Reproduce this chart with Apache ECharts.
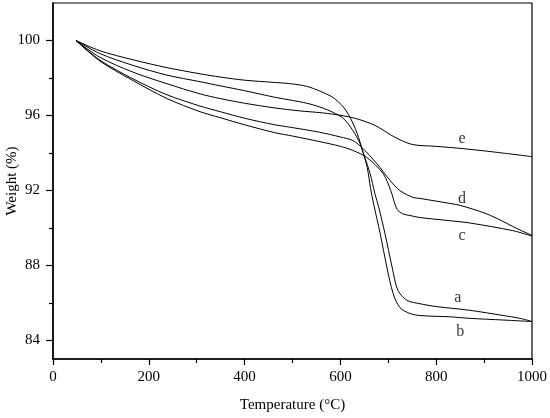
<!DOCTYPE html>
<html>
<head>
<meta charset="utf-8">
<script src="https://cdn.jsdelivr.net/npm/echarts@6/dist/echarts.min.js"></script>
<style>html,body{margin:0;padding:0;background:#fff;}#c{width:550px;height:418px;}</style>
</head>
<body>
<div id="c"></div>
<script>
// Temperature (°C) / Weight (%) readings for each TGA curve
const tempA = [48, 98, 167, 238, 307, 349, 400, 463, 500, 530, 557, 585, 606, 626, 641, 651, 662, 672, 680, 693, 708, 720, 739, 766, 800, 870, 940, 975, 1000];
const weightA = [100, 99.3, 98.67, 98.15, 97.8, 97.58, 97.32, 96.97, 96.8, 96.65, 96.45, 96.16, 95.84, 95.2, 94.5, 93.75, 92.9, 91.83, 91.1, 89.7, 87.9, 86.67, 86.13, 85.95, 85.8, 85.6, 85.32, 85.17, 85.0];

const tempB = [48, 98, 167, 238, 307, 349, 400, 463, 500, 530, 557, 585, 606, 620, 635, 646, 656, 663, 670, 683, 697, 710, 724, 745, 766, 829, 870, 940, 1000];
const weightB = [100, 99.45, 98.97, 98.55, 98.22, 98.05, 97.88, 97.76, 97.68, 97.55, 97.3, 96.95, 96.45, 95.9, 95.04, 94.13, 93.22, 92.1, 91.2, 89.7, 87.9, 86.5, 85.75, 85.43, 85.32, 85.25, 85.17, 85.08, 85.0];

const tempC = [48, 98, 167, 238, 307, 349, 400, 463, 500, 557, 600, 626, 655, 689, 705, 718, 730, 745, 766, 829, 870, 960, 1000];
const weightC = [100, 98.9, 97.86, 96.9, 96.2, 95.88, 95.5, 95.08, 94.9, 94.6, 94.35, 94.13, 93.76, 92.9, 92.0, 91.0, 90.75, 90.66, 90.55, 90.38, 90.26, 89.85, 89.56];

const tempD = [48, 98, 167, 238, 307, 349, 400, 463, 500, 557, 600, 626, 647, 676, 704, 724, 752, 766, 829, 850, 900, 927, 969, 1000];
const weightD = [100, 98.95, 97.95, 97.1, 96.5, 96.2, 95.85, 95.5, 95.35, 95.1, 94.85, 94.66, 94.23, 93.43, 92.52, 91.99, 91.62, 91.57, 91.3, 91.2, 90.8, 90.5, 89.96, 89.6];

const tempE = [48, 98, 167, 238, 307, 349, 400, 463, 516, 557, 589, 630, 672, 714, 750, 800, 855, 920, 1000];
const weightE = [100, 99.1, 98.31, 97.69, 97.15, 96.9, 96.65, 96.4, 96.24, 96.15, 96.05, 95.85, 95.47, 94.83, 94.45, 94.35, 94.23, 94.05, 93.8];

// curve labels (name, temperature, weight)
const curveNames = ['a', 'b', 'c', 'd', 'e'];
const labelTemps = [845, 850, 854, 854, 854];
const labelWeights = [86.24, 84.43, 89.6, 91.57, 94.77];

// axis ticks
const yMajor = [84, 88, 92, 96, 100];
const yMinor = [86, 90, 94, 98];

function pairs(t, w) { return t.map((v, i) => [v, w[i]]); }

const FONT = 'Liberation Serif';
const chart = echarts.init(document.getElementById('c'), null, {renderer: 'canvas'});

const curves = [[tempA, weightA], [tempB, weightB], [tempC, weightC], [tempD, weightD], [tempE, weightE]];
const lineSeries = curves.map((c, i) => ({
  type: 'line',
  name: curveNames[i],
  data: pairs(c[0], c[1]),
  showSymbol: false,
  smooth: 0.3,
  lineStyle: {color: '#000', width: 1},
  silent: true,
  z: 3
}));

const labelSeries = {
  type: 'scatter',
  data: curveNames.map((n, i) => ({value: [labelTemps[i], labelWeights[i]], name: n})),
  symbolSize: 0,
  silent: true,
  label: {
    show: true,
    position: 'inside',
    formatter: p => p.name,
    color: '#000',
    fontFamily: FONT,
    fontSize: 16
  }
};

chart.setOption({
  animation: false,
  backgroundColor: '#fff',
  grid: {left: 53, right: 18, top: 3, bottom: 59, containLabel: false, outerBoundsMode: 'none',
    show: true, borderColor: '#000', borderWidth: 1.2, backgroundColor: 'transparent'},
  xAxis: {
    type: 'value', min: 0, max: 1000, interval: 200,
    name: 'Temperature (°C)', nameLocation: 'middle', nameGap: 39, nameMoveOverlap: false,
    nameTextStyle: {fontFamily: FONT, fontSize: 15, color: '#000'},
    axisLine: {show: true, lineStyle: {color: '#000', width: 1.5}},
    axisTick: {show: true, length: 6, lineStyle: {color: '#000', width: 1.2}},
    minorTick: {show: true, splitNumber: 2, length: 4, lineStyle: {color: '#000', width: 1.2}},
    axisLabel: {fontFamily: FONT, fontSize: 15, color: '#000', margin: 11, formatter: v => String(v)},
    splitLine: {show: false}
  },
  yAxis: [{
    type: 'value', min: 83, max: 102,
    name: 'Weight (%)', nameLocation: 'middle', nameGap: 33, nameRotate: 90, nameMoveOverlap: false,
    nameTextStyle: {fontFamily: FONT, fontSize: 15, color: '#000'},
    axisLine: {show: true, lineStyle: {color: '#000', width: 1.5}},
    axisTick: {show: true, length: 7, customValues: yMajor, lineStyle: {color: '#000', width: 1.2}},
    axisLabel: {fontFamily: FONT, fontSize: 15, color: '#000', margin: 13, customValues: yMajor, formatter: v => String(v)},
    splitLine: {show: false}
  }, {
    type: 'value', min: 83, max: 102, position: 'left', offset: 0,
    axisLine: {show: false},
    axisTick: {show: true, length: 4, customValues: yMinor, lineStyle: {color: '#000', width: 1.2}},
    axisLabel: {show: false},
    splitLine: {show: false}
  }],
  series: lineSeries.concat([labelSeries])
});
</script>
</body>
</html>
